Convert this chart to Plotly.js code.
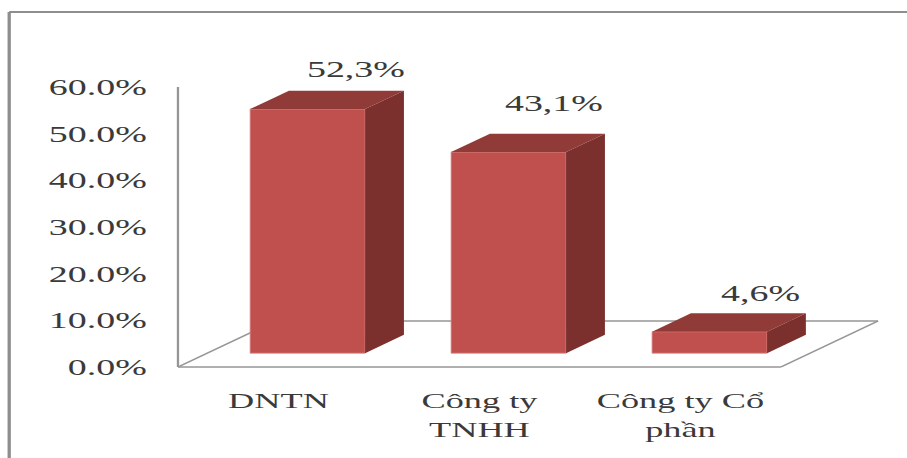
<!DOCTYPE html>
<html>
<head>
<meta charset="utf-8">
<script src="https://cdn.plot.ly/plotly-3.0.1.min.js"></script>
<style>
  html, body { margin: 0; padding: 0; background: #fff; overflow: hidden; }
  #chart { transform-origin: 0 0; }
</style>
</head>
<body>
<div id="chart"></div>
<script>
// Share of enterprises by legal form
const categories = ['DNTN', 'Công ty<br>TNHH', 'Công ty Cổ<br>phần'];
const shares = [52.3, 43.1, 4.6];
const axisTicks = [0, 10, 20, 30, 40, 50, 60];
const axisTickLabels = ['0.0%', '10.0%', '20.0%', '30.0%', '40.0%', '50.0%', '60.0%'];

// The whole chart is laid out narrow and widened, which gives the broad lettering.
const STRETCH = 1.65;
const PAGE_W = 907, PAGE_H = 458;

// Oblique floor: how far the back edge sits from the front edge, in axis units.
const DEPTH_X = 0.4834;
const DEPTH_Y = 9.857;
const BAR_FRONT = 0.30;   // front face of a column, as a fraction of the floor depth
const BAR_BACK = 0.70;    // back face of a column
const BAR_WIDTH = 0.572;

const FACE = '#C0504D', TOP = '#913B39', SIDE = '#7B302E', RULE = '#969696', INK = '#3a3a3a';

const cx = categories.map((_, i) => i);
const project = (x, y, d) => [x + d * DEPTH_X, y + d * DEPTH_Y];

function polygon(points, color) {
  return {
    type: 'scatter', mode: 'lines', fill: 'toself', fillcolor: color,
    x: points.map(p => p[0]), y: points.map(p => p[1]),
    line: { width: 0 }, hoverinfo: 'skip', showlegend: false
  };
}

const traces = [];
// Front faces stand on the floor at the front fraction of its depth.
traces.push({
  type: 'bar',
  x: cx.map(i => i + BAR_FRONT * DEPTH_X),
  y: shares,
  base: shares.map(() => BAR_FRONT * DEPTH_Y),
  width: BAR_WIDTH,
  marker: { color: FACE, line: { color: '#D98A88', width: 0.6 } },
  hoverinfo: 'skip', showlegend: false
});
shares.forEach((v, i) => {
  const l = i - BAR_WIDTH / 2, r = i + BAR_WIDTH / 2;
  traces.push(polygon([
    project(l, v, BAR_FRONT), project(l, v, BAR_BACK),
    project(r, v, BAR_BACK), project(r, v, BAR_FRONT)
  ], TOP));
  traces.push(polygon([
    project(r, v, BAR_FRONT), project(r, v, BAR_BACK),
    project(r, 0, BAR_BACK), project(r, 0, BAR_FRONT)
  ], SIDE));
});

// Value labels sit above the back edge of each column top.
const labelOffsets = [[9, 21], [6, 30], [13, 20]];
const annotations = shares.map((v, i) => {
  const p = project(i, v, BAR_BACK);
  return {
    x: p[0], y: p[1], xref: 'x', yref: 'y', showarrow: false,
    text: v.toFixed(1).replace('.', ',') + '%',
    xanchor: 'center', yanchor: 'middle',
    xshift: labelOffsets[i][0] / STRETCH, yshift: labelOffsets[i][1],
    font: { family: 'Liberation Serif', size: 23, color: INK }
  };
});

// Pixel extents of the plot area; the axes are placed so 0-60% and the three
// categories land on the wall and floor edges.
const PX_PER_CAT = 200.67, PX_PER_PCT = 4.667;
const X0 = 178, Y0 = 367;
const LEFT = 170, RIGHT = 885, TOP_PX = 85, BOTTOM = 372;
const xRange = [-0.5 + (LEFT - X0) / PX_PER_CAT, -0.5 + (RIGHT - X0) / PX_PER_CAT];
const yRange = [(Y0 - BOTTOM) / PX_PER_PCT, (Y0 - TOP_PX) / PX_PER_PCT];

const rule = (x0, y0, x1, y1) => ({
  type: 'line', xref: 'x', yref: 'y', layer: 'below',
  x0, y0, x1, y1, line: { color: RULE, width: 1.4 }
});
const frontL = -0.5, frontR = 2.5;
const shapes = [
  rule(frontL, 0, frontL, 60),
  rule(frontL, 0, frontR, 0),
  rule(frontL, 0, frontL + DEPTH_X, DEPTH_Y),
  rule(frontR, 0, frontR + DEPTH_X, DEPTH_Y),
  rule(frontL + DEPTH_X, DEPTH_Y, frontR + DEPTH_X, DEPTH_Y),
  // chart frame: top and left edges only
  { type: 'line', xref: 'paper', yref: 'paper', layer: 'above',
    x0: (9.5 - LEFT) / (RIGHT - LEFT), x1: (907 - LEFT) / (RIGHT - LEFT),
    y0: (BOTTOM - 12) / (BOTTOM - TOP_PX), y1: (BOTTOM - 12) / (BOTTOM - TOP_PX),
    line: { color: '#8E8E8E', width: 2 } },
  { type: 'line', xref: 'paper', yref: 'paper', layer: 'above',
    x0: (9.5 - LEFT) / (RIGHT - LEFT), x1: (9.5 - LEFT) / (RIGHT - LEFT),
    y0: (BOTTOM - 12) / (BOTTOM - TOP_PX), y1: (BOTTOM - 458) / (BOTTOM - TOP_PX),
    line: { color: '#8E8E8E', width: 2 } }
];

const layout = {
  width: PAGE_W / STRETCH,
  height: PAGE_H,
  autosize: false,
  paper_bgcolor: '#fff',
  plot_bgcolor: '#fff',
  margin: { l: LEFT / STRETCH, r: (PAGE_W - RIGHT) / STRETCH, t: TOP_PX, b: PAGE_H - BOTTOM, pad: 0 },
  showlegend: false,
  xaxis: {
    range: xRange, showgrid: false, zeroline: false, showline: false,
    tickmode: 'array', tickvals: cx, ticktext: categories,
    ticks: '', tickangle: 0, ticklabelstandoff: 13,
    tickfont: { family: 'Liberation Serif', size: 22, color: INK }
  },
  yaxis: {
    range: yRange, showgrid: false, zeroline: false, showline: false,
    tickmode: 'array', tickvals: axisTicks, ticktext: axisTickLabels,
    ticks: '', ticklabelstandoff: 13,
    tickfont: { family: 'Liberation Serif', size: 23, color: INK }
  },
  shapes, annotations
};

Plotly.newPlot('chart', traces, layout, { displayModeBar: false, staticPlot: true }).then(() => {
  document.getElementById('chart').style.transform = 'scaleX(' + STRETCH + ')';
});
</script>
</body>
</html>
